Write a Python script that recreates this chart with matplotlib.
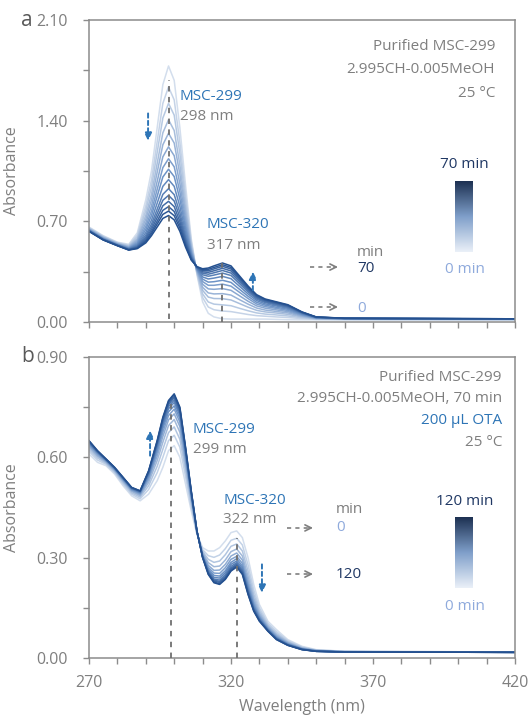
import numpy as np
import matplotlib.pyplot as plt
from matplotlib.colors import LinearSegmentedColormap
from matplotlib.ticker import MultipleLocator, FixedLocator, FormatStrFormatter

plt.rcParams['font.family'] = ['Open Sans', 'DejaVu Sans']

X_TICKS = [270, 320, 370, 420]

# ---- panel a: 2.995CH-0.005MeOH, 0-70 min (every 5 min) ----
WL_A = [270, 275, 280, 284, 287, 290, 292, 294, 296, 298, 300, 302, 304, 306, 308,
        310, 312, 314, 317, 320, 323, 326, 329, 332, 336, 340, 345, 350, 360, 420]

A_00 = [.660, .600, .555, .540, .620, .850, 1.050, 1.350, 1.650, 1.780, 1.680, 1.350, .950, .580, .330,
        .140, .060, .035, .022, .020, .020, .020, .020, .020, .018, .016, .015, .015, .015, .015]
A_05 = [.656, .596, .552, .534, .605, .808, .987, 1.253, 1.520, 1.634, 1.544, 1.249, .890, .559, .338,
        .170, .104, .085, .076, .072, .062, .052, .044, .040, .035, .031, .023, .018, .017, .016]
A_10 = [.653, .593, .549, .530, .593, .775, .938, 1.178, 1.418, 1.520, 1.438, 1.170, .843, .543, .344,
        .195, .139, .124, .119, .113, .095, .078, .063, .055, .049, .042, .029, .020, .018, .017]
A_15 = [.649, .589, .546, .526, .580, .742, .888, 1.102, 1.315, 1.406, 1.331, 1.091, .795, .526, .350,
        .220, .173, .163, .162, .153, .128, .103, .081, .070, .062, .053, .035, .022, .019, .018]
A_20 = [.647, .587, .544, .522, .571, .715, .848, 1.040, 1.232, 1.312, 1.244, 1.026, .757, .513, .355,
        .241, .202, .195, .197, .187, .155, .124, .097, .083, .073, .063, .040, .024, .020, .018]
A_25 = [.644, .584, .542, .518, .561, .688, .807, .977, 1.148, 1.218, 1.156, .961, .718, .499, .360,
        .262, .230, .227, .232, .220, .182, .144, .112, .096, .084, .072, .045, .026, .021, .019]
A_30 = [.641, .581, .540, .515, .552, .664, .771, .922, 1.073, 1.135, 1.079, .904, .683, .487, .364,
        .281, .255, .255, .263, .249, .206, .163, .125, .107, .094, .080, .049, .027, .022, .019]
A_35 = [.639, .579, .538, .512, .544, .643, .740, .874, 1.008, 1.062, 1.011, .853, .653, .477, .368,
        .298, .277, .280, .290, .275, .227, .179, .137, .117, .102, .088, .053, .029, .023, .020]
A_40 = [.637, .577, .536, .510, .536, .622, .708, .826, .943, .990, .943, .803, .623, .466, .372,
        .313, .299, .305, .317, .301, .248, .195, .149, .126, .111, .095, .057, .030, .023, .020]
A_45 = [.635, .575, .535, .507, .530, .604, .681, .784, .887, .927, .885, .760, .597, .457, .375,
        .328, .318, .326, .340, .323, .266, .209, .159, .135, .118, .101, .060, .031, .024, .021]
A_50 = [.634, .574, .533, .505, .525, .590, .661, .753, .846, .880, .841, .727, .578, .450, .378,
        .339, .332, .342, .358, .340, .280, .219, .167, .141, .124, .106, .063, .032, .025, .021]
A_55 = [.633, .573, .532, .504, .520, .579, .643, .726, .808, .839, .802, .698, .561, .444, .380,
        .348, .345, .356, .373, .355, .292, .228, .174, .147, .128, .110, .065, .033, .025, .021]
A_60 = [.632, .572, .532, .502, .517, .568, .627, .701, .776, .802, .768, .673, .546, .439, .382,
        .356, .356, .369, .387, .368, .302, .236, .180, .152, .133, .114, .067, .034, .025, .022]
A_65 = [.631, .571, .531, .501, .513, .559, .614, .681, .748, .771, .739, .652, .533, .435, .383,
        .363, .366, .379, .398, .379, .311, .243, .185, .156, .136, .117, .068, .034, .026, .022]
A_70 = [.630, .570, .530, .500, .510, .550, .600, .660, .720, .740, .710, .630, .520, .430, .385,
        .370, .375, .390, .410, .390, .320, .250, .190, .160, .140, .120, .070, .035, .026, .022]

# ---- panel b: + 200 uL OTA, 0-120 min (every 10 min) ----
WL_B = [270, 273, 276, 279, 282, 285, 288, 291, 294, 296, 298, 300, 302, 304, 306, 308, 310,
        312, 314, 316, 318, 320, 322, 324, 326, 328, 330, 333, 336, 340, 345, 350, 360, 420]

B_000 = [.610, .585, .575, .550, .515, .485, .470, .490, .530, .570, .620, .635, .600, .520, .440, .370, .330,
         .320, .320, .330, .350, .375, .380, .360, .300, .220, .160, .110, .085, .055, .035, .025, .020, .018]
B_010 = [.618, .592, .579, .554, .520, .490, .476, .504, .554, .600, .650, .666, .630, .542, .452, .372, .324,
         .306, .301, .308, .327, .352, .358, .338, .278, .204, .150, .104, .079, .052, .033, .024, .020, .018]
B_020 = [.624, .598, .582, .557, .524, .494, .481, .515, .573, .624, .674, .691, .654, .560, .462, .374, .319,
         .295, .286, .290, .309, .334, .341, .320, .260, .191, .142, .099, .074, .049, .031, .023, .019, .018]
B_030 = [.630, .603, .585, .560, .528, .498, .485, .525, .590, .645, .695, .713, .675, .575, .470, .375, .315,
         .285, .273, .275, .293, .318, .326, .305, .245, .180, .135, .095, .070, .047, .030, .023, .019, .018]
B_040 = [.634, .606, .587, .562, .530, .500, .488, .533, .603, .662, .712, .730, .692, .587, .477, .376, .312,
         .277, .262, .263, .280, .305, .314, .293, .233, .171, .130, .092, .067, .045, .029, .022, .019, .017]
B_050 = [.638, .610, .589, .564, .533, .503, .491, .539, .614, .675, .725, .744, .705, .597, .482, .377, .309,
         .271, .254, .253, .270, .295, .304, .283, .223, .164, .125, .089, .064, .043, .028, .022, .019, .017]
B_060 = [.641, .612, .590, .565, .534, .504, .493, .544, .622, .686, .736, .754, .716, .605, .486, .378, .307,
         .266, .247, .245, .261, .286, .297, .275, .215, .158, .122, .087, .062, .042, .027, .021, .018, .017]
B_070 = [.643, .614, .592, .567, .536, .506, .495, .548, .630, .695, .745, .764, .725, .611, .490, .378, .305,
         .262, .241, .239, .255, .280, .290, .269, .209, .154, .119, .085, .060, .041, .027, .021, .018, .017]
B_080 = [.645, .616, .593, .568, .537, .507, .496, .552, .636, .702, .752, .771, .732, .617, .493, .379, .304,
         .258, .236, .233, .249, .274, .285, .263, .203, .150, .116, .084, .059, .040, .026, .021, .018, .017]
B_090 = [.647, .617, .593, .568, .538, .508, .498, .554, .640, .708, .758, .778, .738, .621, .495, .379, .302,
         .256, .233, .229, .244, .269, .281, .259, .199, .146, .114, .082, .057, .039, .026, .020, .018, .017]
B_100 = [.648, .618, .594, .569, .539, .509, .499, .557, .644, .713, .763, .782, .743, .625, .497, .380, .302,
         .254, .230, .226, .241, .266, .277, .256, .196, .144, .113, .082, .057, .039, .026, .020, .018, .017]
B_110 = [.649, .619, .595, .570, .540, .510, .499, .559, .648, .717, .767, .787, .747, .628, .499, .380, .301,
         .251, .227, .222, .237, .262, .274, .252, .192, .142, .111, .081, .056, .038, .025, .020, .018, .017]
B_120 = [.650, .620, .595, .570, .540, .510, .500, .560, .650, .720, .770, .790, .750, .630, .500, .380, .300,
         .250, .225, .220, .235, .260, .272, .250, .190, .140, .110, .080, .055, .038, .025, .020, .018, .017]

SPEC_A = [A_00, A_05, A_10, A_15, A_20, A_25, A_30, A_35, A_40, A_45, A_50, A_55, A_60, A_65, A_70]
SPEC_B = [B_000, B_010, B_020, B_030, B_040, B_050, B_060, B_070, B_080, B_090, B_100, B_110, B_120]

GRAY = '#7f7f7f'
SPINE = '#8c8c8c'
BLUE = '#2e75b6'
DARK = '#203864'
LIGHT = '#8faadc'

line_cmap = LinearSegmentedColormap.from_list('lines', ['#d3deed', '#6d93c6', '#24508f'])
bar_cmap = LinearSegmentedColormap.from_list('bar', ['#eaf0f8', '#7f9fca', '#1d3152'])


def style_axes(ax, ymax, ymajor, show_xlabels):
    ax.set_xlim(270, 420)
    ax.set_ylim(0, ymax)
    ax.xaxis.set_major_locator(FixedLocator(X_TICKS))
    ax.xaxis.set_minor_locator(MultipleLocator(10))
    ax.yaxis.set_major_locator(MultipleLocator(ymajor))
    ax.yaxis.set_minor_locator(MultipleLocator(ymajor / 2))
    ax.yaxis.set_major_formatter(FormatStrFormatter('%.2f'))
    ax.tick_params(which='both', direction='out', length=4, width=1,
                   color=SPINE, labelcolor=GRAY, labelsize=11.5)
    ax.tick_params(axis='y', pad=11)
    ax.tick_params(axis='x', pad=8, labelbottom=show_xlabels)
    for sp in ax.spines.values():
        sp.set_color(SPINE)
        sp.set_linewidth(1.1)
    ax.set_ylabel('Absorbance', color=GRAY, fontsize=11.5)
    ax.yaxis.set_label_coords(-0.163, 0.5)


def blue_arrow(ax, x, y0, y1):
    ax.annotate('', xy=(x, y1), xytext=(x, y0),
                arrowprops=dict(arrowstyle='-|>,head_length=0.45,head_width=0.22',
                                ls=(0, (2.2, 1.6)), color=BLUE, lw=1.4,
                                shrinkA=0, shrinkB=0), zorder=5)


def gray_arrow(ax, x0, x1, y):
    ax.plot([x0, x1 - 1.2], [y, y], ls=(0, (2.5, 2.5)), color=GRAY, lw=1.2, zorder=5)
    ax.annotate('', xy=(x1, y), xytext=(x1 - 1.5, y),
                arrowprops=dict(arrowstyle='->,head_length=0.45,head_width=0.22',
                                color=GRAY, lw=1.2, shrinkA=0, shrinkB=0), zorder=5)


def draw_lines(ax, wl, spectra):
    n = len(spectra)
    for i, s in enumerate(spectra):
        ax.plot(wl, s, color=line_cmap(i / (n - 1)), lw=1.1, zorder=2)


def color_bar(ax, x0, x1, y0, y1):
    grad = np.linspace(0, 1, 200).reshape(-1, 1)
    ax.imshow(grad, extent=[x0, x1, y0, y1], origin='lower', aspect='auto',
              cmap=bar_cmap, zorder=3)


def main():
    fig = plt.figure(figsize=(5.31, 7.15), dpi=100)
    ax_a = fig.add_axes([0.1676, 0.5497, 0.8023, 0.4224])
    ax_b = fig.add_axes([0.1676, 0.0797, 0.8023, 0.4210])

    # panel a
    draw_lines(ax_a, WL_A, SPEC_A)
    ax_a.plot([298, 298], [0.02, 1.68], ls=(0, (3, 3)), color='#6f6f6f', lw=1.3, zorder=4)
    ax_a.plot([317, 317], [0.0, 0.41], ls=(0, (3, 3)), color='#6f6f6f', lw=1.3, zorder=4)
    ax_a.text(302, 1.565, 'MSC-299', color=BLUE, fontsize=11, va='center')
    ax_a.text(302, 1.426, '298 nm', color=GRAY, fontsize=11, va='center')
    ax_a.text(311.5, 0.675, 'MSC-320', color=BLUE, fontsize=11, va='center')
    ax_a.text(311.5, 0.535, '317 nm', color=GRAY, fontsize=11, va='center')
    blue_arrow(ax_a, 290.8, 1.45, 1.26)
    blue_arrow(ax_a, 327.7, 0.22, 0.35)
    for txt, y in [('Purified MSC-299', 1.912), ('2.995CH-0.005MeOH', 1.752), ('25 °C', 1.592)]:
        ax_a.text(413, y, txt, color=GRAY, fontsize=11, ha='right', va='center')
    ax_a.text(364.4, 0.48, 'min', color=GRAY, fontsize=11, va='center')
    ax_a.text(364.4, 0.375, '70', color=DARK, fontsize=11, va='center')
    ax_a.text(364.4, 0.097, '0', color=LIGHT, fontsize=11, va='center')
    gray_arrow(ax_a, 347.8, 357.7, 0.382)
    gray_arrow(ax_a, 347.8, 357.7, 0.104)
    color_bar(ax_a, 398.9, 404.9, 0.487, 0.974)
    ax_a.text(402.2, 1.092, '70 min', color=DARK, fontsize=11, ha='center', va='center')
    ax_a.text(402.2, 0.362, '0 min', color=LIGHT, fontsize=11, ha='center', va='center')
    style_axes(ax_a, 2.1, 0.7, False)

    # panel b
    draw_lines(ax_b, WL_B, SPEC_B)
    ax_b.plot([299, 299], [0.0, 0.76], ls=(0, (3, 3)), color='#6f6f6f', lw=1.3, zorder=4)
    ax_b.plot([322, 322], [0.0, 0.36], ls=(0, (3, 3)), color='#6f6f6f', lw=1.3, zorder=4)
    ax_b.text(306.6, 0.682, 'MSC-299', color=BLUE, fontsize=11, va='center')
    ax_b.text(306.6, 0.622, '299 nm', color=GRAY, fontsize=11, va='center')
    ax_b.text(317.2, 0.472, 'MSC-320', color=BLUE, fontsize=11, va='center')
    ax_b.text(317.2, 0.413, '322 nm', color=GRAY, fontsize=11, va='center')
    blue_arrow(ax_b, 291.5, 0.605, 0.68)
    blue_arrow(ax_b, 330.9, 0.28, 0.195)
    ax_b.text(415.4, 0.840, 'Purified MSC-299', color=GRAY, fontsize=11, ha='right', va='center')
    ax_b.text(415.4, 0.777, '2.995CH-0.005MeOH, 70 min', color=GRAY, fontsize=11,
              ha='right', va='center')
    ax_b.text(415.4, 0.709, '200 μL OTA', color=BLUE, fontsize=11, ha='right', va='center')
    ax_b.text(415.4, 0.643, '25 °C', color=GRAY, fontsize=11, ha='right', va='center')
    ax_b.text(357, 0.443, 'min', color=GRAY, fontsize=11, va='center')
    ax_b.text(357, 0.389, '0', color=LIGHT, fontsize=11, va='center')
    ax_b.text(357, 0.251, '120', color=DARK, fontsize=11, va='center')
    gray_arrow(ax_b, 339.7, 348.9, 0.389)
    gray_arrow(ax_b, 339.7, 348.9, 0.251)
    color_bar(ax_b, 398.9, 404.9, 0.209, 0.419)
    ax_b.text(402.2, 0.469, '120 min', color=DARK, fontsize=11, ha='center', va='center')
    ax_b.text(402.2, 0.153, '0 min', color=LIGHT, fontsize=11, ha='center', va='center')
    style_axes(ax_b, 0.9, 0.3, True)
    ax_b.set_xlabel('Wavelength (nm)', color=GRAY, fontsize=11.5)
    ax_b.xaxis.set_label_coords(0.5, -0.135)

    # panel letters
    fig.text(0.040, 1 - 20 / 715, 'a', color='#595959', fontsize=15, va='center')
    fig.text(0.040, 1 - 357 / 715, 'b', color='#595959', fontsize=15, va='center')

    fig.savefig('out.png', dpi=100)


if __name__ == '__main__':
    main()
